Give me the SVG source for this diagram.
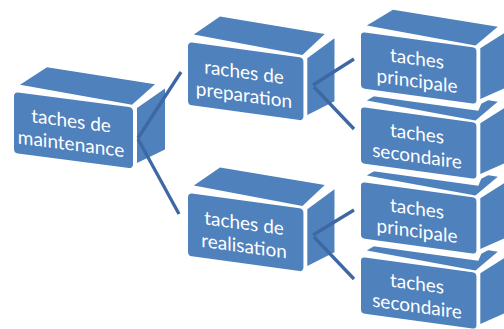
<svg xmlns="http://www.w3.org/2000/svg" xmlns:xlink="http://www.w3.org/1999/xlink" width="504" height="329" viewBox="0 0 504 329">
  <style>
    .face { fill: #4f81bd; }
    .hull { fill: #ffffff; }
    .label { fill: #ffffff; font-family: Lato, "Open Sans", "Liberation Sans", sans-serif; font-size: 19px; text-anchor: middle; }
    .link { stroke: #3d68a3; stroke-width: 3.3; fill: none; stroke-linecap: butt; }
  </style>
  <defs>
    <!-- 3D block: white backing, front face, top face, right side face -->
    <g id="block">
      <polygon class="hull" points="-2,-2 4,-10 32,-31 143,-28 153,-25 153,40 124,60 121,68 -2,68"/>
      <polygon class="face" points="6,-8 33,-29 141,-26 118,-2.5"/>
      <polygon class="face" points="123,0 151,-23 151,38 123,55"/>
      <rect class="face" x="0" y="0" width="119" height="61" rx="4"/>
    </g>
  </defs>

  <rect width="504" height="329" fill="#ffffff"/>

  <!-- root -->
  <g id="maintenance" transform="translate(14 92) skewY(7.4)">
    <use xlink:href="#block"/>
    <text class="label" x="57" y="28">taches de</text>
    <text class="label" x="57" y="51">maintenance</text>
  </g>

  <!-- second level -->
  <g id="preparation" transform="translate(188 42) skewY(7.8)">
    <use xlink:href="#block" transform="scale(0.97 1.03)"/>
    <text class="label" x="56" y="29">raches de</text>
    <text class="label" x="56" y="52">preparation</text>
  </g>

  <g id="realisation" transform="translate(188 193) skewY(7.8)">
    <use xlink:href="#block" transform="scale(0.97 1.03)"/>
    <text class="label" x="56" y="29">taches de</text>
    <text class="label" x="56" y="52">realisation</text>
  </g>

  <!-- leaves, stacked: lower blocks first so upper ones overlap them -->
  <g id="secondaire-2" transform="translate(361 257) skewY(7.8)">
    <use xlink:href="#block" transform="scale(0.97 0.92)"/>
    <text class="label" x="56" y="25.5">taches</text>
    <text class="label" x="56" y="48">secondaire</text>
  </g>

  <g id="principale-2" transform="translate(361 182) skewY(7.8)">
    <use xlink:href="#block" transform="scale(0.97 0.92)"/>
    <text class="label" x="56" y="25.5">taches</text>
    <text class="label" x="56" y="48">principale</text>
  </g>

  <g id="secondaire-1" transform="translate(361 107) skewY(7.8)">
    <use xlink:href="#block" transform="scale(0.97 0.92)"/>
    <text class="label" x="56" y="25.5">taches</text>
    <text class="label" x="56" y="48">secondaire</text>
  </g>

  <g id="principale-1" transform="translate(361 32) skewY(7.8)">
    <use xlink:href="#block" transform="scale(0.97 0.92)"/>
    <text class="label" x="56" y="25.5">taches</text>
    <text class="label" x="56" y="48">principale</text>
  </g>

  <!-- connectors -->
  <g id="connectors">
    <line class="link" x1="138" y1="138" x2="181" y2="72"/>
    <line class="link" x1="138" y1="139" x2="179" y2="214"/>
    <line class="link" x1="313" y1="85" x2="354" y2="59"/>
    <line class="link" x1="314" y1="87" x2="354" y2="129"/>
    <line class="link" x1="313" y1="235" x2="354" y2="210"/>
    <line class="link" x1="314" y1="237" x2="354" y2="279"/>
  </g>
</svg>
